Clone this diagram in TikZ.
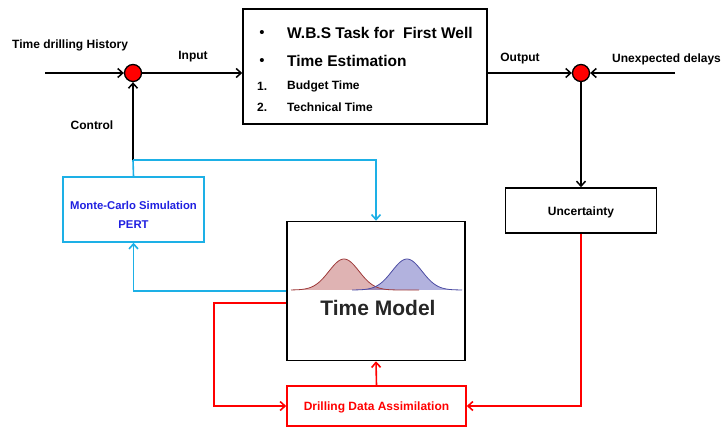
\documentclass[tikz,border=0pt]{standalone}
\usepackage{fontspec}
\setmainfont{Liberation Sans}
\usetikzlibrary{arrows.meta,calc}
\definecolor{cyanline}{HTML}{1DB0E6}
\definecolor{mcblue}{HTML}{1F1FE0}
\definecolor{gred}{HTML}{B04040}
\definecolor{gblue}{HTML}{5555B5}
\begin{document}
\begin{tikzpicture}[x=1pt,y=-1pt,
  >={Straight Barb[length=5pt,width=9pt]},
  lbl/.style={font=\bfseries\fontsize{12}{14}\selectfont,inner sep=0pt},
  box/.style={draw,line width=1.5pt,inner sep=0pt},
  blk/.style={line width=1.5pt},
  cy/.style={draw=cyanline,line width=1.6pt},
  rd/.style={draw=red,line width=1.6pt},
  sumpt/.style={circle,draw,fill=red,line width=1.3pt,minimum size=17pt,inner sep=0pt}]
\useasboundingbox (0,0) rectangle (721,428);
% boxes
\node[box,minimum width=244pt,minimum height=115pt] (WBS) at (365,66.5) {};
\node[box,draw=cyanline,minimum width=141pt,minimum height=65pt] (MC) at (133.5,209.5) {};
\node[box,minimum width=178pt,minimum height=139pt] (TM) at (376,291) {};
\node[box,draw=red,minimum width=179pt,minimum height=40pt] (DDA) at (376.5,406) {};
\node[box,minimum width=151pt,minimum height=45pt] (UNC) at (581,210.5) {};
\node[sumpt] (L) at (133,73) {};
\node[sumpt] (R) at (581,73) {};
% texts in WBS
\node[anchor=center,inner sep=0pt,font=\fontsize{15}{16}\selectfont] (b1) at (262,34) {\textbullet};
\node[anchor=west,inner sep=0pt,font=\bfseries\fontsize{15.5}{17}\selectfont] (t1) at (287,33) {W.B.S Task for\ \ First Well};
\node[anchor=center,inner sep=0pt,font=\fontsize{15}{16}\selectfont] (b2) at (262,62) {\textbullet};
\node[anchor=west,inner sep=0pt,font=\bfseries\fontsize{15.5}{17}\selectfont] (t2) at (287,61) {Time Estimation};
\node[anchor=west,lbl] (n1) at (257,86) {1.};
\node[anchor=west,lbl] (t3) at (287,86) {Budget Time};
\node[anchor=west,lbl] (n2) at (257,107) {2.};
\node[anchor=west,lbl] (t4) at (287,107) {Technical Time};
% labels
\node[anchor=west,lbl] (tdh) at (12,45) {Time drilling History};
\node[lbl] (inp) at (193,57) {Input};
\node[lbl] (ctl) at (92,125) {Control};
\node[lbl] (outp) at (520,59) {Output};
\node[anchor=west,lbl] (ud) at (612,59) {Unexpected delays};
\node[lbl,text=mcblue,font=\bfseries\fontsize{11.3}{13}\selectfont] (mc1) at (133.5,205) {Monte-Carlo Simulation};
\node[lbl,text=mcblue,font=\bfseries\fontsize{11.3}{13}\selectfont] (mc2) at (133.5,225) {PERT};
\node[lbl] (unct) at (581,212) {Uncertainty};
\node[lbl,text=red] (ddat) at (376.5,407) {Drilling Data Assimilation};
% gaussians
\fill[gred,opacity=0.4] plot[domain=291:419,samples=80] (\x,{290-31*exp(-((\x-344)^2)/450)}) -- cycle;
\fill[gblue,opacity=0.45] plot[domain=352:462,samples=80] (\x,{290-31*exp(-((\x-407)^2)/450)}) -- cycle;
\draw[gred!90!black,line width=0.8pt] plot[domain=291:419,samples=80] (\x,{290-31*exp(-((\x-344)^2)/450)});
\draw[gblue!90!black,line width=0.8pt] plot[domain=352:462,samples=80] (\x,{290-31*exp(-((\x-407)^2)/450)});
\node[inner sep=0pt,font=\bfseries\fontsize{21}{23}\selectfont,text=black!85] (tmt) at (378,308) {Time Model};
% coordinates
\coordinate (in0) at (45,73);
\coordinate (ud0) at (675,73);
\coordinate (jb) at (133,160);
% black connectors
\draw[blk,->] (in0) -- (L);
\draw[blk,->] (L) -- (WBS.west |- L);
\draw[blk,->] (jb) -- (L);
\draw[blk,->] (WBS.east |- R) -- (R);
\draw[blk,->] (ud0) -- (R);
\draw[blk,->] (R) -- (UNC.north);
% blue connectors
\draw[cy,->] (jb) -| (TM.north);
\draw[cy] (jb) -- (MC.north);
\draw[cy,->] (TM.west) -| (MC.south);
% red connectors
\draw[rd,->] ([yshift=-12pt]TM.west) -- ++(-72,0) |- (DDA.west);
\draw[rd,->] (DDA.north) -- (TM.south);
\draw[rd,->] (UNC.south) |- (DDA.east);
\end{tikzpicture}
\end{document}
